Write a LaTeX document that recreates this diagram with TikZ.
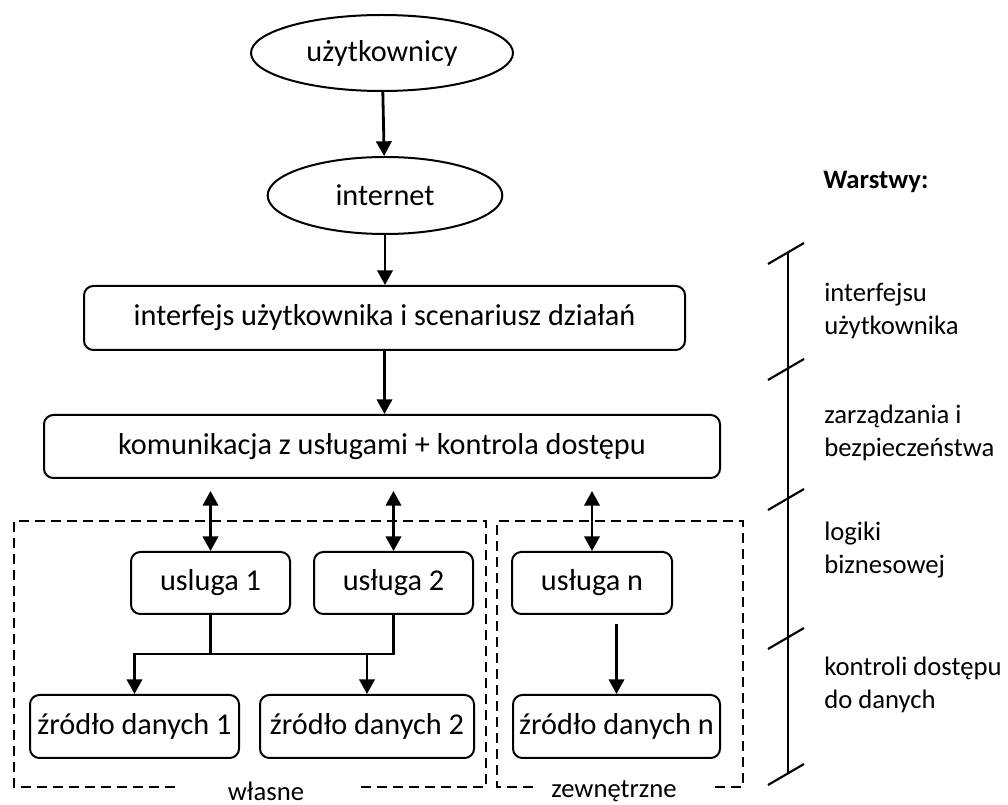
\documentclass[tikz,border=0pt]{standalone}
\usepackage{fontspec}
\setmainfont{Carlito}
\usetikzlibrary{shapes.geometric,arrows.meta}
\begin{document}
\begin{tikzpicture}[x=0.75pt,y=-0.75pt,
  every node/.style={font=\fontsize{22.7}{27}\selectfont, inner sep=0pt},
  oval/.style={draw, ellipse, line width=1.5pt},
  rbox/.style={draw, rounded corners=7pt, line width=1.5pt},
  conn/.style={line width=2.1pt},
  arr/.style={line width=2.1pt, -{Triangle[width=11.5pt,length=11pt]}},
  dbl/.style={line width=2.1pt, {Triangle[width=11.5pt,length=11pt]}-{Triangle[width=11.5pt,length=11pt]}},
  grp/.style={line width=1.5pt, dash pattern=on 7.5pt off 4.5pt},
  grplabel/.style={font=\fontsize{20}{24}\selectfont},
  lay/.style={font=\fontsize{20}{24.5}\selectfont, align=left, anchor=west},
  tickline/.style={line width=1.6pt}]
\useasboundingbox (0,0) rectangle (1008,805);

% main nodes
\node[oval, minimum width=196.5pt, minimum height=57pt] (u) at (382,53) {użytkownicy};
\node[oval, minimum width=176pt, minimum height=57.75pt] (net) at (385,195.5) {internet};
\node[rbox, minimum width=450.75pt, minimum height=48pt] (ui) at (384.5,318) {interfejs użytkownika i scenariusz działań};
\node[rbox, minimum width=507pt, minimum height=47.25pt] (kom) at (382,446.5) {komunikacja z usługami + kontrola dostępu};
\node[rbox, minimum width=119.25pt, minimum height=46.5pt] (us1) at (210.5,583) {usluga 1};
\node[rbox, minimum width=119.25pt, minimum height=46.5pt] (us2) at (393.5,583) {usługa 2};
\node[rbox, minimum width=120pt, minimum height=46.5pt] (usn) at (592,583) {usługa n};
\node[rbox, minimum width=156.75pt, minimum height=47.25pt] (z1) at (134.5,726.5) {źródło danych 1};
\node[rbox, minimum width=160.5pt, minimum height=47.25pt] (z2) at (367,726.5) {źródło danych 2};
\node[rbox, minimum width=155.25pt, minimum height=47.25pt] (zn) at (616.5,726.5) {źródło danych n};

% connectors
\draw[arr] (u) -- (net);
\draw[arr] (net.south) -- (net.south |- ui.north);
\draw[arr] (ui.south) -- (ui.south |- kom.north);
\draw[dbl, shorten <=9pt] (us1.north |- kom.south) -- (us1.north);
\draw[dbl, shorten <=9pt] (us2.north |- kom.south) -- (us2.north);
\draw[dbl, shorten <=9pt] (usn.north |- kom.south) -- (usn.north);

\coordinate (bus) at (0,654);
\draw[arr] (us2.south) -- (us2.south |- bus) -- (z1.north |- bus) -- (z1.north);
\draw[conn] (us1.south) -- (us1.south |- bus);
\draw[arr] (z2.north |- bus) -- (z2.north);
\draw[arr, shorten <=6.75pt] (usn.south -| zn.north) -- (zn.north);

% groups
\draw[grp] (175,787) -- (14,787) -- (14,521) -- (486,521) -- (486,787) -- (355,787);
\node[grplabel] (own) at (266,791) {własne};
\draw[grp] (533,787) -- (497,787) -- (497,521) -- (743,521) -- (743,787) -- (715,787);
\node[grplabel] (ext) at (614,791) {zewnętrzne};

% layers scale
\node[lay, font=\fontsize{20}{24.5}\selectfont\bfseries] (title) at (823,182) {Warstwy:};
\coordinate (t1) at (788,252);
\coordinate (t2) at (788,368);
\coordinate (t3) at (788,498);
\coordinate (t4) at (788,637);
\coordinate (t5) at (788,773);
\draw[tickline] (t1) -- (t5);
\foreach \t in {t1,t2,t3,t4,t5}{
  \draw[tickline] ([shift={(-20,12)}]\t) -- ([shift={(16,-9)}]\t);
}
\node[lay] (l1) at (824,311) {interfejsu\\użytkownika};
\node[lay] (l2) at (824,433) {zarządzania i\\bezpieczeństwa};
\node[lay] (l3) at (824,550) {logiki\\biznesowej};
\node[lay] (l4) at (824,685) {kontroli dostępu\\do danych};
\end{tikzpicture}
\end{document}
